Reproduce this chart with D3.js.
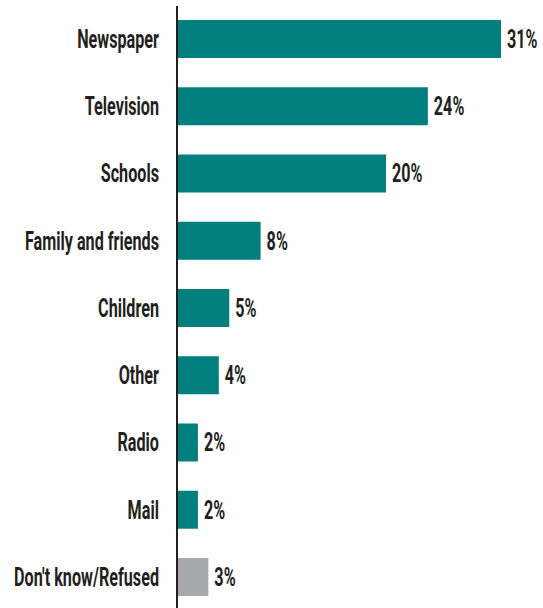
<!DOCTYPE html>
<html>
<head>
<meta charset="utf-8">
<script src="https://cdn.jsdelivr.net/npm/d3@7"></script>
<style>
  html, body { margin: 0; padding: 0; background: #fff; }
  svg { display: block; }
  text { font-family: Roboto, "Liberation Sans", sans-serif; fill: #231f20; }
</style>
</head>
<body>
<svg id="chart" width="543" height="608"></svg>
<script>
// Sources of information (share of respondents, %)
const categories = ["Newspaper", "Television", "Schools", "Family and friends", "Children", "Other", "Radio", "Mail", "Don't know/Refused"];
const values = [31, 24, 20, 8, 5, 4, 2, 2, 3];
const valueLabels = ["31%", "24%", "20%", "8%", "5%", "4%", "2%", "2%", "3%"];
const noAnswer = ["Don't know/Refused"];

const svg = d3.select("#chart");
const axisX = 177;
const fontSize = 25;
const weight = "bold";

const x = d3.scaleLinear().domain([0, 31]).range([axisX, 501]);
const y = d3.scaleBand()
  .domain(categories)
  .range([5.4, 610.6])
  .paddingInner(0.435)
  .paddingOuter(0.2175);

const rows = categories.map((c, i) => ({ cat: c, value: values[i], label: valueLabels[i] }));

// condensed look: measure the widest label and squeeze all text horizontally
const probe = svg.append("text")
  .attr("font-size", fontSize).attr("font-weight", weight)
  .text("Don't know/Refused");
const squeeze = 145 / probe.node().getComputedTextLength();
probe.remove();

// bars
svg.append("g").selectAll("rect")
  .data(rows)
  .join("rect")
  .attr("x", x(0))
  .attr("y", d => y(d.cat))
  .attr("width", d => x(d.value) - x(0))
  .attr("height", y.bandwidth())
  .attr("fill", d => noAnswer.includes(d.cat) ? "#a7aaab" : "#007f7e");

// category labels
svg.append("g").selectAll("text")
  .data(rows)
  .join("text")
  .attr("transform", d => `translate(159,${y(d.cat) + y.bandwidth() / 2}) scale(${squeeze},1)`)
  .attr("dy", "0.355em")
  .attr("text-anchor", "end")
  .attr("font-size", fontSize)
  .attr("font-weight", weight)
  .text(d => d.cat);

// value labels
svg.append("g").selectAll("text")
  .data(rows)
  .join("text")
  .attr("transform", d => `translate(${x(d.value) + 6},${y(d.cat) + y.bandwidth() / 2}) scale(${squeeze},1)`)
  .attr("dy", "0.355em")
  .attr("font-size", fontSize)
  .attr("font-weight", weight)
  .text(d => d.label);

// category axis line
svg.append("line")
  .attr("x1", axisX).attr("x2", axisX)
  .attr("y1", 6).attr("y2", 608)
  .attr("stroke", "#231f20")
  .attr("stroke-width", 2);
</script>
</body>
</html>
